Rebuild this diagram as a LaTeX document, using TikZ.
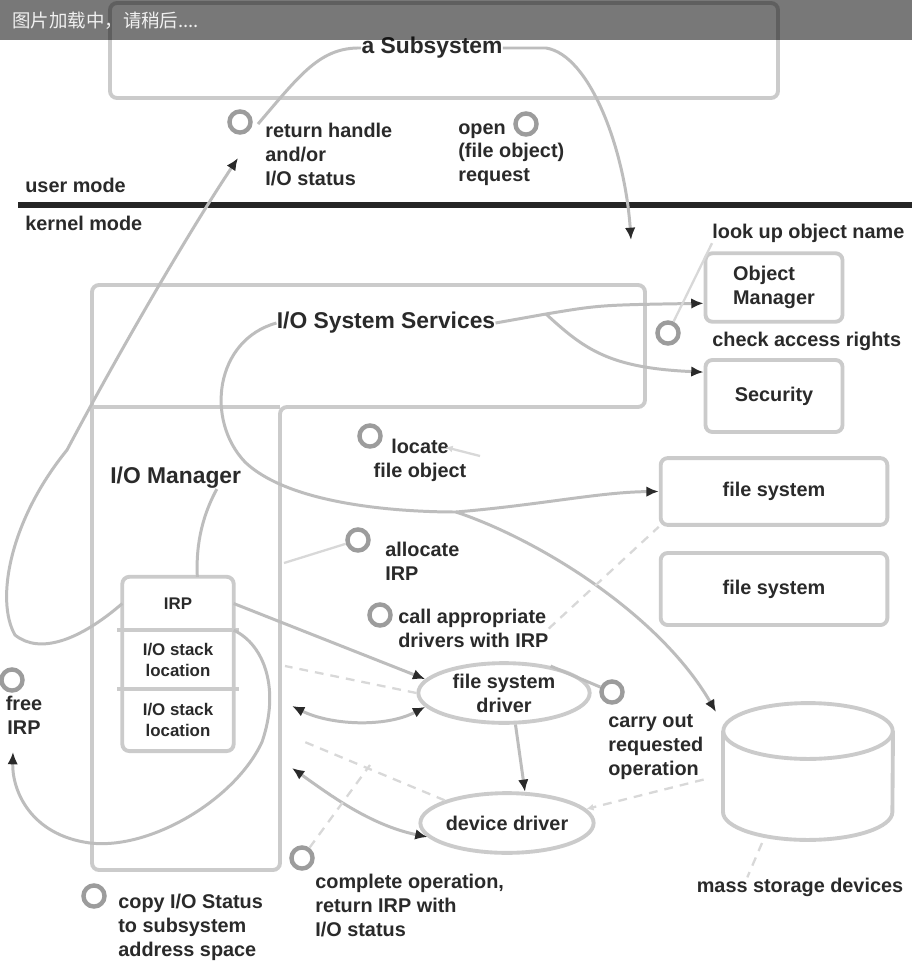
\documentclass[tikz,border=0pt]{standalone}
\usepackage{fontspec}
\setsansfont{Liberation Sans}
\newfontfamily\cjkfont{Noto Sans CJK SC}
\usetikzlibrary{positioning, shapes.geometric, arrows.meta}
\definecolor{boxgray}{HTML}{CBCBCB}
\definecolor{wiregray}{HTML}{BDBDBD}
\definecolor{faintgray}{HTML}{D8D8D8}
\definecolor{ringgray}{HTML}{9C9C9C}
\definecolor{inkgray}{HTML}{2A2A2A}
\definecolor{bargray}{HTML}{777777}

\tikzset{
  lbl/.style={font=\sffamily\bfseries\fontsize{11.3}{13.6}\selectfont, text=inkgray,
              align=left, anchor=north west, inner sep=0pt},
  ttl/.style={font=\sffamily\bfseries\fontsize{13}{15}\selectfont, text=inkgray, inner sep=0pt},
  blk/.style={draw=boxgray, line width=2.2pt, rounded corners=4pt, align=left,
              font=\sffamily\bfseries\fontsize{11.3}{13.6}\selectfont, text=inkgray},
  oval/.style={ellipse, draw=boxgray, line width=2.2pt, align=center, inner sep=0pt,
               font=\sffamily\bfseries\fontsize{11.3}{13.6}\selectfont, text=inkgray},
  cell/.style={minimum width=63pt, inner sep=0pt, align=center,
               font=\sffamily\bfseries\fontsize{9.6}{12}\selectfont, text=inkgray},
  ring/.style={circle, draw=ringgray, fill=white, line width=2.5pt, minimum size=12pt, inner sep=0pt},
  wire/.style={draw=wiregray, line width=1.7pt},
  faint/.style={draw=faintgray, line width=1.3pt, dash pattern=on 5pt off 4pt},
  tip/.style={-{Latex[length=7pt,width=6pt,color=inkgray]}},
  tips/.style={{Latex[length=7pt,width=6pt,color=inkgray]}-{Latex[length=7pt,width=6pt,color=inkgray]}},
}

\begin{document}
\begin{tikzpicture}[x=0.02cm, y=-0.02cm]
  \fill[white] (0,0) rectangle (912,967);
  \useasboundingbox (0,0) rectangle (912,967);

  % subsystem and the mode boundary
  \draw[draw=boxgray, line width=2.2pt, rounded corners=4pt] (110,3) rectangle (778,98);
  \node[ttl] (sub) at (432,48) {a Subsystem};
  \draw[line width=3pt, black!85] (18,205) -- (912,205);
  \node[lbl] (usr) at (25,178) {user mode};
  \node[lbl] (krn) at (25,216) {kernel mode};

  % executive boxes
  \draw[draw=boxgray, line width=2.2pt, rounded corners=4pt]
        (92,285) -- (645,285) -- (645,407) -- (280,407) -- (280,870) -- (92,870) -- cycle;
  \draw[draw=boxgray, line width=2.2pt] (92,407) -- (280,407);
  \node[ttl] (iosys) at (386,323) {I/O System Services};
  \node[ttl, anchor=west] (iomgr) at (110,478) {I/O Manager};

  \node[blk, minimum width=78pt, minimum height=39pt] (objmgr) at (774,287.5) {Object\\Manager};
  \node[blk, minimum width=78pt, minimum height=41pt] (sec) at (774,396) {Security};
  \node[blk, minimum width=129pt, minimum height=38pt] (fs1) at (774,491.5) {file system};
  \node[blk, minimum width=129pt, minimum height=41pt] (fs2) at (774,589) {file system};

  % IRP with its stack locations
  \node[cell, minimum height=30pt] (irp) at (178,603.5) {IRP};
  \node[cell, minimum height=33pt, below=0pt of irp] (stk1) {I/O stack\\location};
  \node[cell, minimum height=35pt, below=0pt of stk1] (stk2) {I/O stack\\location};
  \draw[draw=boxgray, line width=2.2pt, rounded corners=4pt] (irp.north west) rectangle (stk2.south east);
  \draw[draw=boxgray, line width=2.2pt] ([xshift=-3pt]stk1.north west) -- ([xshift=3pt]stk1.north east);
  \draw[draw=boxgray, line width=2.2pt] ([xshift=-3pt]stk2.north west) -- ([xshift=3pt]stk2.north east);

  % drivers and storage
  \node[oval, minimum width=97.5pt, minimum height=34pt] (fsd) at (504,693) {file system\\driver};
  \node[oval, minimum width=96.4pt, minimum height=34pt] (ddrv) at (507,823) {device driver};
  \coordinate (ms-top) at (808,731);
  \draw[draw=boxgray, line width=2.2pt] (ms-top) ellipse [x radius=48.2pt, y radius=15.9pt];
  \draw[draw=boxgray, line width=2.2pt] (723,731) -- (723,812)
        arc[start angle=180, end angle=360, x radius=48.2pt, y radius=15.9pt] -- (893,731);
  \node[lbl, anchor=center] (msd) at (800,887) {mass storage devices};
  \coordinate (ms-in) at (716,712);
  \coordinate (ms-bot) at (762,843);

  % named loose ends
  \coordinate (ret-tip) at (238,158);
  \coordinate (ret-up) at (258,124);
  \coordinate (open-tip) at (631,240);
  \coordinate (svc-split) at (546,314);
  \coordinate (loop-split) at (456,512);
  \coordinate (mgr-fs) at (292,706);
  \coordinate (mgr-fsd) at (285,666);
  \coordinate (mgr-dd) at (292,768);
  \coordinate (mgr-ddd) at (300,740);
  \coordinate (alc-end) at (284,563);
  \coordinate (loc-src) at (480,456);

  % connectors
  \draw[wire, tip] (irp.west) .. controls (80,640) and (40,655) .. (15,635)
        .. controls (-5,600) and (10,520) .. (67,450)
        .. controls (120,350) and (190,230) .. (ret-tip);
  \draw[wire] (ret-up) .. controls (300,75) and (320,47) .. (sub.west);
  \draw[wire, tip] (sub.east) -- (546,48) .. controls (590,55) and (625,150) .. (open-tip);
  \draw[wire, tip] (iosys.east) -- (svc-split) .. controls (600,305) .. ([yshift=-9pt]objmgr.west);
  \draw[wire, tip] (svc-split) .. controls (585,350) and (610,368) .. ([yshift=13.6pt]sec.west);
  \draw[wire] (iosys.west) .. controls (215,340) and (205,420) .. (245,462)
        .. controls (290,505) and (400,512) .. (loop-split);
  \draw[wire, tip] (loop-split) .. controls (540,505) and (600,492) .. (fs1.west);
  \draw[wire, tip] (loop-split) .. controls (540,540) and (660,615) .. (ms-in);
  \draw[wire] ([xshift=-14pt]iomgr.south east) .. controls (200,520) and (196,550) .. ([xshift=11pt]irp.north);
  \draw[wire, tip] (irp.east) -- (fsd.170);
  \draw[faint] (fsd.180) -- (mgr-fsd);
  \draw[wire, tips] (mgr-fs) .. controls (330,725) and (385,728) .. (fsd.190);
  \draw[wire, tip] (fsd.290) -- (ddrv.60);
  \draw[wire, tips] (mgr-dd) .. controls (330,795) and (370,825) .. (ddrv.190);
  \draw[faint] (ddrv.160) -- (mgr-ddd);
  \draw[wire, tip] (stk1.north east) .. controls (265,645) and (280,690) .. (262,742)
        .. controls (235,800) and (150,850) .. (90,843)
        .. controls (30,835) and (12,790) .. (13,752);
  \draw[faint] (ms-bot) -- ([xshift=-30pt]msd.north);

  % numbered steps
  \node[ring] (ret-ring) at (240,122) {};
  \node[lbl] (ret) at (265,123) {return handle\\and/or\\I/O status};
  \node[ring] (open-ring) at (526,124) {};
  \node[lbl] (open) at (458,123) {open\\(file object)\\request};
  \node[lbl] (lookup) at (712,224) {look up object name};
  \node[ring] (ckr-ring) at (668,333) {};
  \node[lbl] (check) at (712,332) {check access rights};
  \draw[faint, solid] (ckr-ring) -- (lookup.south west);
  \node[ring] (loc-ring) at (370,436) {};
  \node[lbl, anchor=center, align=center] (loc) at (420,460) {locate\\file object};
  \draw[faint, solid, -{Latex[length=4pt,width=4pt]}] (loc-src) -- ([xshift=-12pt,yshift=-5pt]loc.north east);
  \node[ring] (alc-ring) at (358,540) {};
  \node[lbl] (alc) at (385,542) {allocate\\IRP};
  \draw[faint, solid] (alc-ring) -- (alc-end);
  \node[ring] (call-ring) at (380,615) {};
  \node[lbl] (call) at (398,609) {call appropriate\\drivers with IRP};
  \draw[faint] (call.east) -- (fs1.south west);
  \node[ring] (carry-ring) at (612,692) {};
  \draw[wire] (fsd.30) -- (carry-ring);
  \node[lbl] (carry) at (608,714) {carry out\\requested\\operation};
  \draw[faint, -{Latex[length=4pt,width=4pt]}] (carry.south east) -- (ddrv.10);
  \node[ring] (cmp-ring) at (302,858) {};
  \draw[faint] (cmp-ring) -- (370,765);
  \node[lbl] (cmp) at (315,874) {complete operation,\\return IRP with\\I/O status};
  \node[ring] (cpy-ring) at (94,896) {};
  \node[lbl] (cpy) at (118,894) {copy I/O Status\\to subsystem\\address space};
  \node[ring] (free-ring) at (12,680) {};
  \node[lbl, anchor=center, align=center] (free) at (24,715) {free\\IRP};

  % loading banner over the top
  \fill[black, fill opacity=0.53] (0,0) rectangle (912,40);
  \node[anchor=west, inner sep=0pt, text=white!94!black, font=\cjkfont\fontsize{10.5}{12}\selectfont]
        (banner) at (12,21) {图片加载中，请稍后....};
\end{tikzpicture}
\end{document}
